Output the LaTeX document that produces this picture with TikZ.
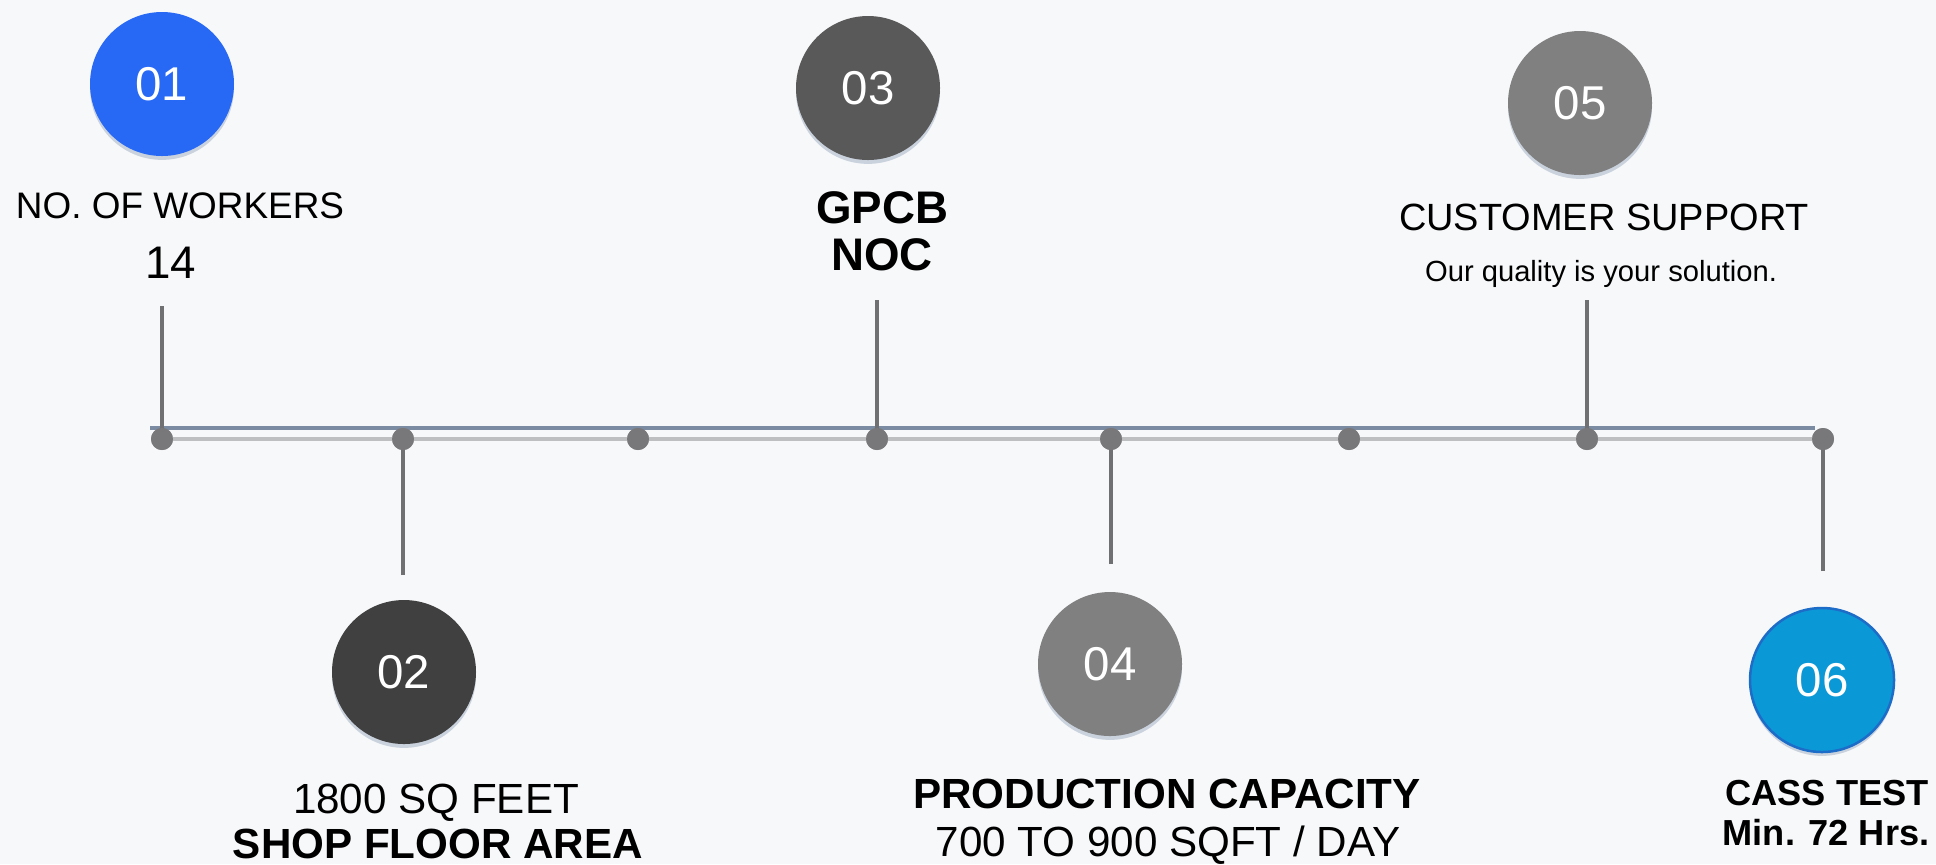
\documentclass[tikz,border=0pt]{standalone}
\usepackage{fontspec}
\setmainfont{Liberation Sans}
\usetikzlibrary{shadows}

\definecolor{paper}{RGB}{247,248,250}
\definecolor{railblue}{RGB}{122,139,162}
\definecolor{railgray}{RGB}{190,191,193}
\definecolor{stemgray}{RGB}{112,112,114}
\definecolor{knobgray}{RGB}{120,120,122}
\definecolor{shadeblue}{RGB}{70,100,135}
\definecolor{bblue}{RGB}{39,104,245}
\definecolor{bdark}{RGB}{64,64,64}
\definecolor{bmid}{RGB}{89,89,89}
\definecolor{bgray}{RGB}{128,128,128}
\definecolor{bcyan}{RGB}{11,152,214}
\definecolor{bcyanrim}{RGB}{28,108,200}

\newcommand{\fs}[1]{\fontsize{#1}{#1}\selectfont}

\begin{document}
\begin{tikzpicture}[x=0.1mm,y=-0.1mm,
  bubble/.style={circle,minimum size=14.4mm,inner sep=0pt,text=white,font=\fs{13.5},
    drop shadow={shadow xshift=0pt,shadow yshift=-1.1pt,fill=shadeblue,opacity=.25}},
  knob/.style={circle,minimum size=2.2mm,inner sep=0pt,fill=knobgray},
  stem/.style={color=stemgray,line width=0.45mm},
  lbl/.style={anchor=base,inner sep=0pt}]

\path[use as bounding box,fill=paper] (0,0) rectangle (1936,864);

% rails
\coordinate (railL) at (150,428);
\coordinate (railR) at (1815,428);
\draw[color=railblue,line width=0.4mm] (railL)--(railR);

\foreach \x [count=\i] in {162,403,638,877,1111,1349,1587,1823}{
  \node[knob] (k\i) at (\x,439) {};
}
\draw[color=railgray,line width=0.45mm] (k1.center)--(k8.center);

% stems
\coordinate (s1) at (k1 |- 0,306);
\coordinate (s2) at (k2 |- 0,575);
\coordinate (s4) at (k4 |- 0,300);
\coordinate (s5) at (k5 |- 0,564);
\coordinate (s7) at (k7 |- 0,300);
\coordinate (s8) at (k8 |- 0,571);
\foreach \i in {1,2,4,5,7,8}{
  \draw[stem] (s\i)--(k\i.center);
}
\foreach \i in {1,...,8}{
  \node[knob] at (k\i) {};
}

% bubbles
\node[bubble,fill=bblue] (b1) at (162,84) {01};
\node[bubble,fill=bdark] (b2) at (404,672) {02};
\node[bubble,fill=bmid] (b3) at (868,88) {03};
\node[bubble,fill=bgray] (b4) at (1110,664) {04};
\node[bubble,fill=bgray] (b5) at (1580,103) {05};
\node[bubble,fill=bcyan,draw=bcyanrim,line width=0.25mm] (b6) at (1822,680) {06};

% texts
\node[lbl,font=\fs{10.5}] (t1a) at (180,218) {NO. OF WORKERS};
\node[lbl,font=\fs{13}] (t1b) at (171,278) {14};

\node[lbl,font=\fs{13}\bfseries] (t3a) at (882,223) {GPCB};
\node[lbl,font=\fs{13}\bfseries] (t3b) at (882,270) {NOC};

\node[lbl,font=\fs{10.8}] (t5a) at (1604,230) {CUSTOMER SUPPORT};
\node[lbl,font=\fs{8.3}] (t5b) at (1601,281) {Our quality is your solution.};

\node[lbl,font=\fs{12}] (t2a) at (436,813) {1800 SQ FEET};
\node[lbl,font=\fs{12}\bfseries] (t2b) at (438,858) {SHOP FLOOR AREA};

\node[lbl,font=\fs{12}\bfseries] (t4a) at (1167,808) {PRODUCTION CAPACITY};
\node[lbl,font=\fs{12}] (t4b) at (1168,856) {700 TO 900 SQFT / DAY};

\node[lbl,font=\fs{10.3}\bfseries] (t6a) at (1827,805) {CASS TEST};
\node[lbl,font=\fs{10.3}\bfseries] (t6b) at (1826,845) {Min. 72 Hrs.};

\end{tikzpicture}
\end{document}
